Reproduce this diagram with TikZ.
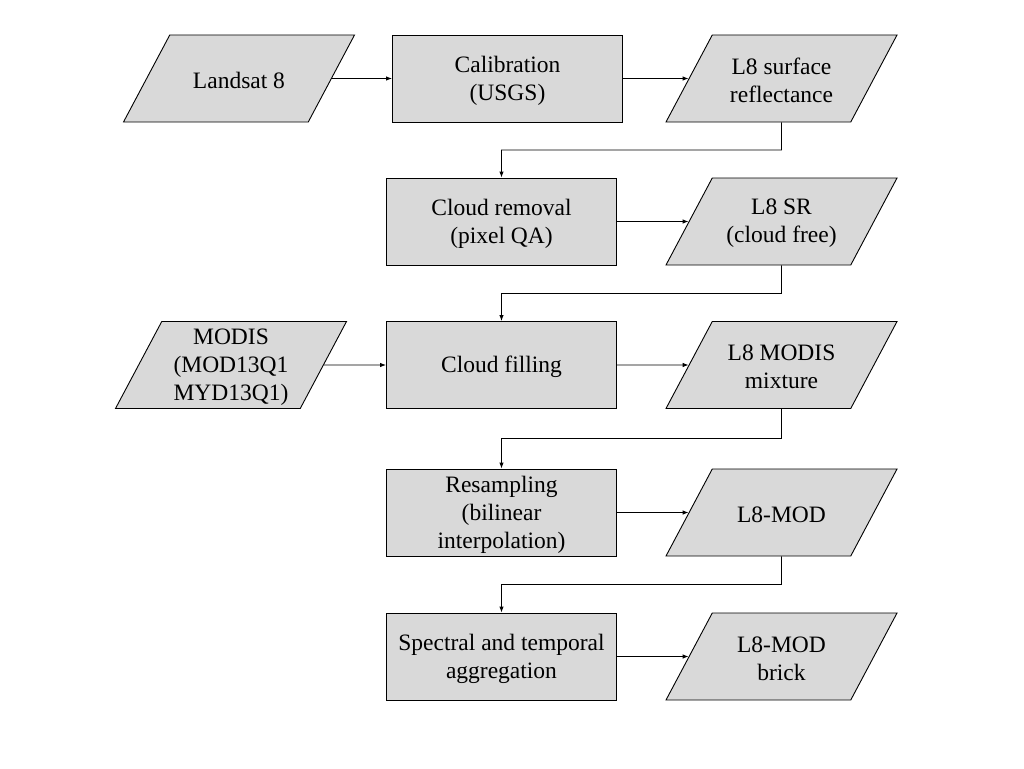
\documentclass[tikz,border=0pt]{standalone}
\usepackage{fontspec}
\setmainfont{Liberation Serif}
\usepackage{tikz}
\usetikzlibrary{arrows.meta, shapes.geometric}
\definecolor{boxgray}{RGB}{217,217,217}
\tikzset{boxtext/.style={inner sep=0pt,
                         execute at begin node={\begin{minipage}[c][87pt][c]{#1}\centering\vspace*{4pt}},
                         execute at end node={\end{minipage}}}}
\tikzstyle{process} = [rectangle, draw=black, fill=boxgray, minimum width=230pt, boxtext=226pt]
\tikzstyle{data} = [trapezium, trapezium left angle=62, trapezium right angle=118, trapezium stretches body,
                    draw=black, fill=boxgray, minimum width=231pt, boxtext=130pt]
\tikzstyle{flow} = [-{Latex[length=6pt, width=4.5pt]}]

\begin{document}
\begin{tikzpicture}[x=1pt, y=-1pt, line width=0.9pt, font=\fontsize{23.5}{28}\selectfont]
				\useasboundingbox (0, 0) rectangle (1024, 768);

				\node (Landsat) [data] at (239, 78.5) {Landsat 8};
				\node (Calib) [process] at (507.5, 78.5) {Calibration\\(USGS)};
				\draw[flow] (Landsat) -- (Calib);

				\node (Surf) [data] at (781.5, 78.5) {L8 surface\\reflectance};
				\draw[flow] (Calib) -- (Surf);

				\node (Cloud) [process] at (501.5, 221.5) {Cloud removal\\(pixel QA)};
				\coordinate (TurnA) at (781.5, 150);
				\draw[flow] (Surf.south) -- (TurnA) -| (Cloud.north);

				\node (Free) [data] at (781.5, 221.5) {L8 SR\\(cloud free)};
				\draw[flow] (Cloud) -- (Free);

				\node (Modis) [data] at (231, 365) {MODIS\\(MOD13Q1\\MYD13Q1)};
				\node (Fill) [process] at (501.5, 365) {Cloud filling};
				\coordinate (TurnB) at (781.5, 293.5);
				\draw[flow] (Free.south) -- (TurnB) -| (Fill.north);
				\draw[flow] (Modis) -- (Fill);

				\node (Mix) [data] at (781.5, 365) {L8 MODIS\\mixture};
				\draw[flow] (Fill) -- (Mix);

				\node (Resamp) [process] at (501.5, 512.5) {Resampling\\(bilinear\\interpolation)};
				\coordinate (TurnC) at (781.5, 438.5);
				\draw[flow] (Mix.south) -- (TurnC) -| (Resamp.north);

				\node (LMod) [data] at (781.5, 512.5) {L8-MOD};
				\draw[flow] (Resamp) -- (LMod);

				\node (Aggr) [process] at (501.5, 656.5) {Spectral and temporal\\aggregation};
				\coordinate (TurnD) at (781.5, 584.5);
				\draw[flow] (LMod.south) -- (TurnD) -| (Aggr.north);

				\node (Brick) [data] at (781.5, 656.5) {L8-MOD\\brick};
				\draw[flow] (Aggr) -- (Brick);
			\end{tikzpicture}
\end{document}
